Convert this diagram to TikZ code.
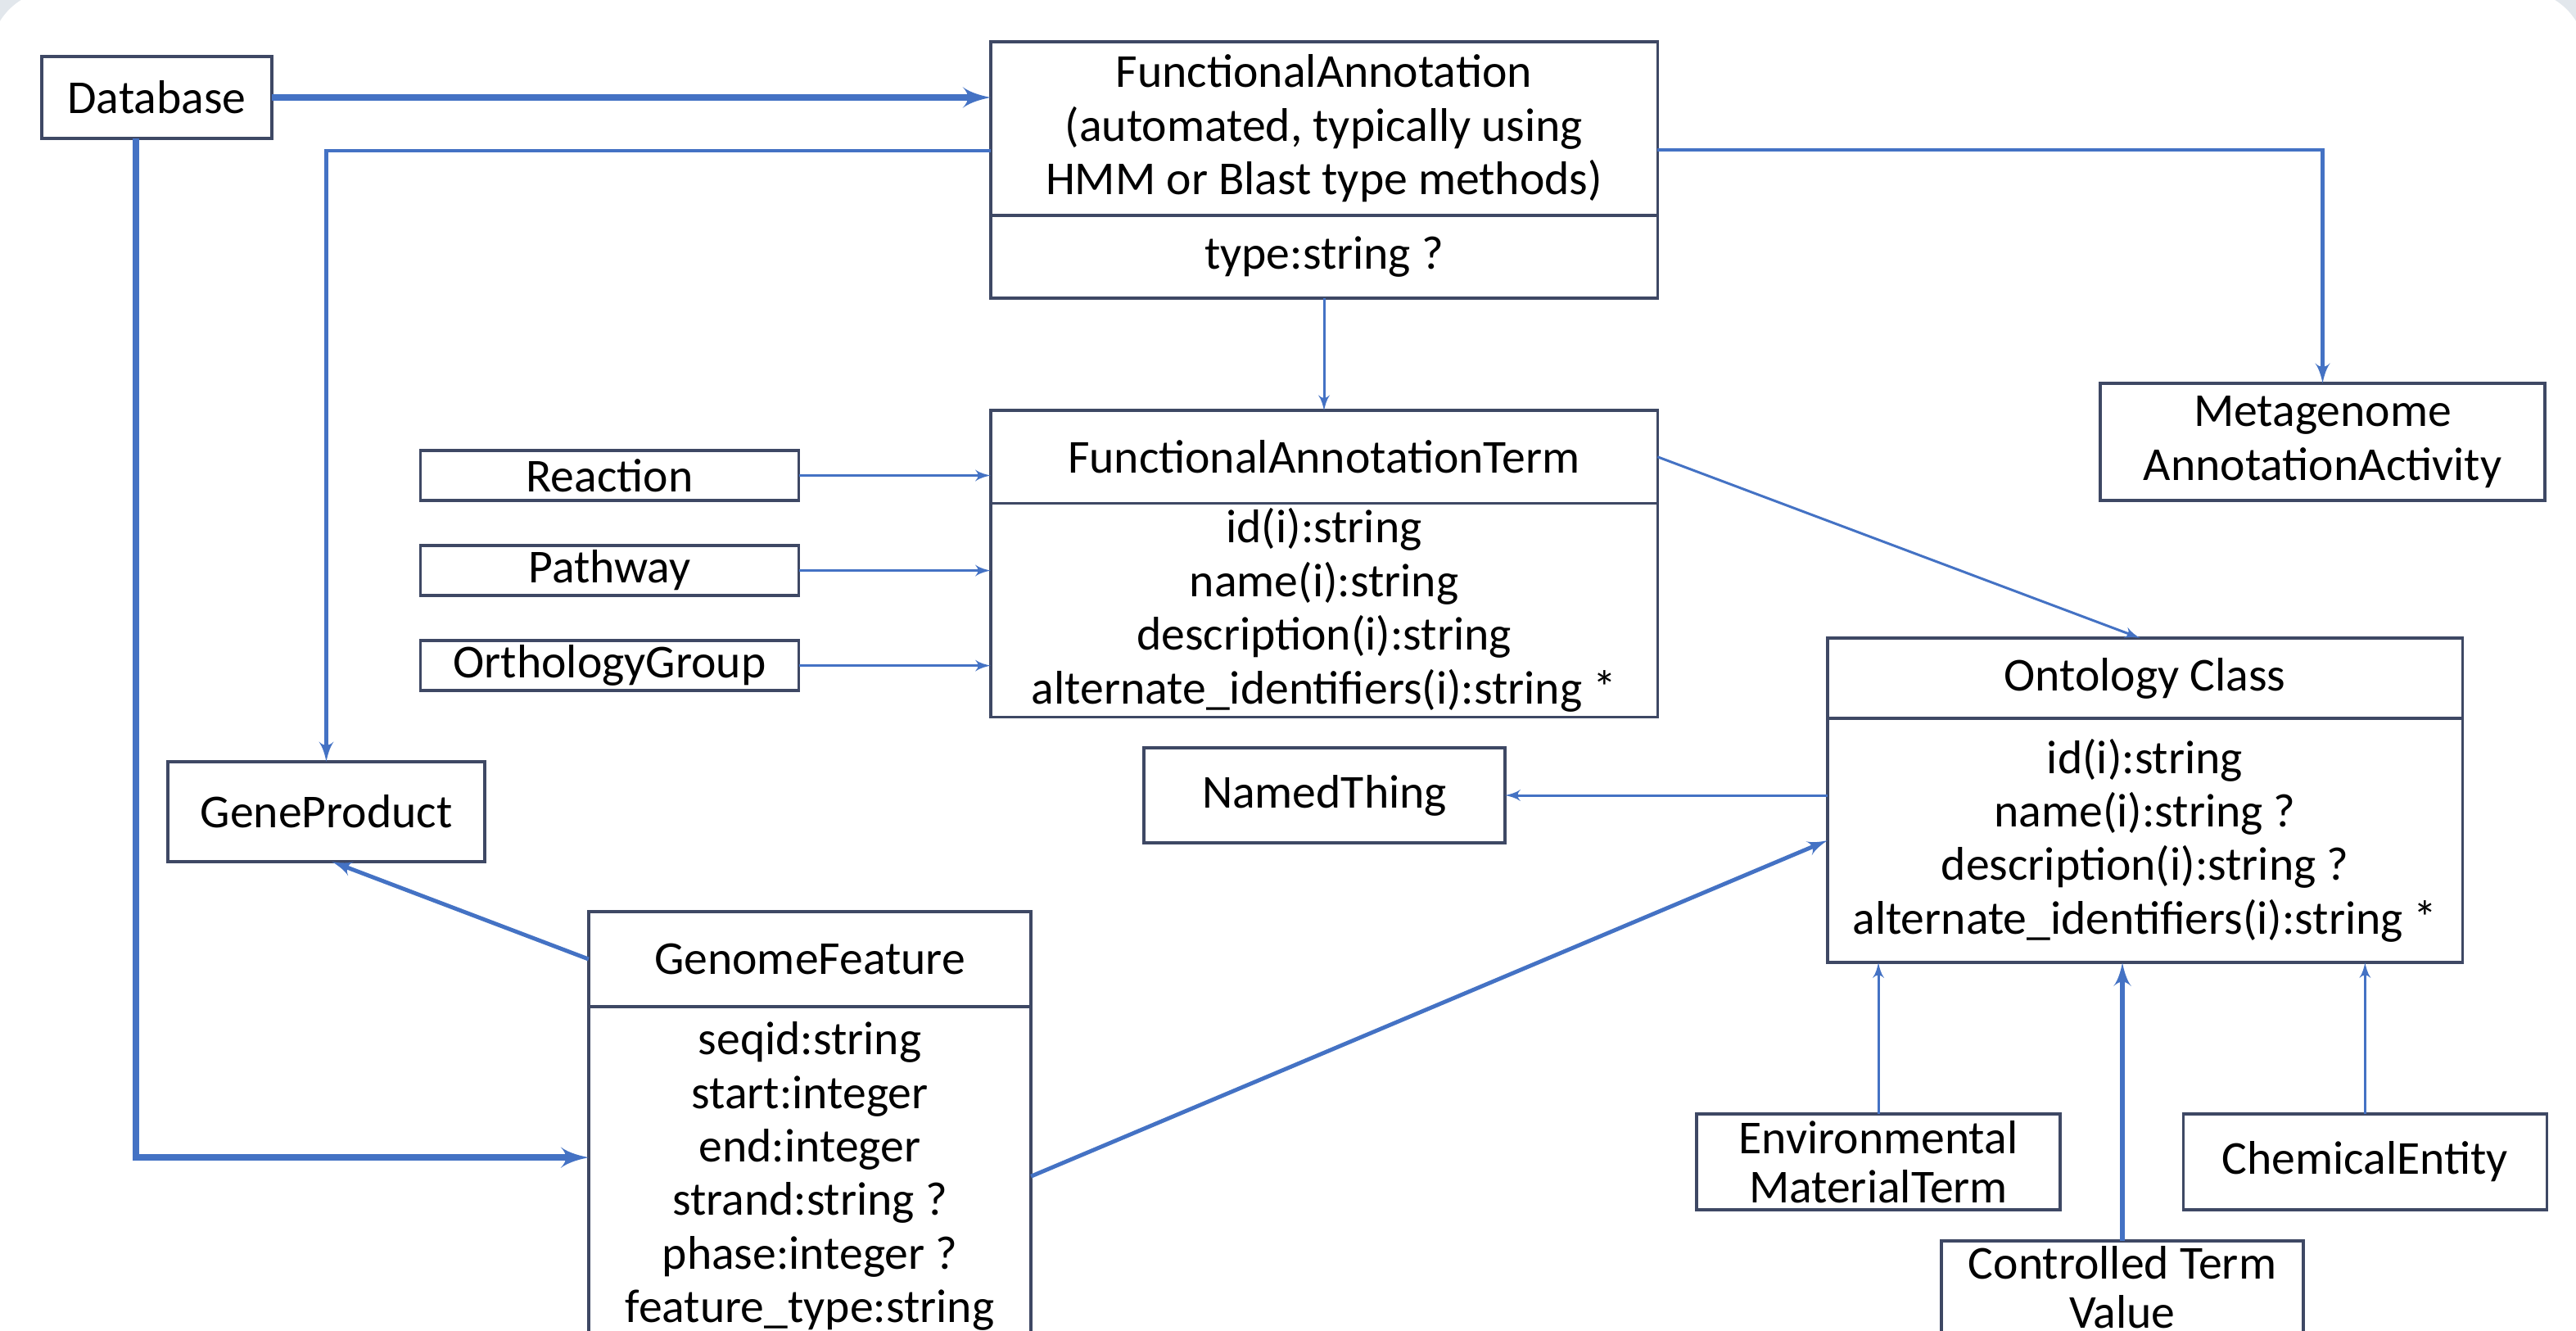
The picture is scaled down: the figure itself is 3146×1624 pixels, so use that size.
\documentclass[tikz,border=0pt]{standalone}
\usepackage{fontspec}
\setmainfont{Carlito}
\usetikzlibrary{shapes,arrows, positioning}
\definecolor{umlblue}{RGB}{68,114,196}
\definecolor{umledge}{RGB}{62,72,100}
\definecolor{framegray}{RGB}{226,231,236}
\tikzstyle{block} = [rectangle, draw=umledge, line width=1pt, fill=white,
    align=center, inner sep=0pt, outer sep=0pt, font=\fontsize{16.4}{18.6}\selectfont]
\tikzstyle{tight} = [font=\fontsize{16.4}{17}\selectfont]
\tikzstyle{line} = [draw=umlblue, line width=0.85pt, -latex']
\tikzstyle{mline} = [line, line width=1.4pt]
\tikzstyle{hline} = [line, line width=2.3pt]

\begin{document}
\begin{tikzpicture}[x=0.01cm, y=-0.01cm, node distance=0.55cm]
		% page frame
		\useasboundingbox (0,0) rectangle (3146,1624);
		\fill[framegray] (0,0) rectangle (3146,1624);
		\fill[white, rounded corners=0.8cm] (-12,-12) rectangle (3158,1700);

		% node placement
		\node [block, minimum width=2.81cm, minimum height=1cm] (Database) at (191.5,119) {Database};

		\node [block, minimum width=8.14cm, minimum height=2.12cm] (FA) at (1617,157) {FunctionalAnnotation\\(automated, typically using\\HMM or Blast type methods)};
		\node [block, minimum width=8.14cm, minimum height=1.01cm, below=0pt of FA] (FAattr) {type:string ?};

		\node [block, minimum width=8.14cm, minimum height=1.13cm, below=1.37cm of FAattr] (FAT) {FunctionalAnnotationTerm};
		\node [block, minimum width=8.14cm, minimum height=2.61cm, below=0pt of FAT] (FATattr) {id(i):string\\name(i):string\\description(i):string\\alternate\_identifiers(i):string *};

		\node [block, minimum width=5.43cm, minimum height=1.43cm] (MAA) at (2836.5,539.5) {Metagenome\\AnnotationActivity};

		\node [block, minimum width=4.62cm, minimum height=0.61cm] (Reaction) at (744.5,580.5) {Reaction};
		\node [block, minimum width=4.62cm, minimum height=0.61cm, below=of Reaction] (Pathway) {Pathway};
		\node [block, minimum width=4.62cm, minimum height=0.61cm, below=of Pathway] (OrthologyGroup) {OrthologyGroup};

		\node [block, minimum width=3.87cm, minimum height=1.22cm] (GeneProduct) at (398.5,991) {GeneProduct};
		\node [block, minimum width=4.41cm, minimum height=1.16cm] (NamedThing) at (1617.5,971) {NamedThing};

		\node [block, minimum width=5.4cm, minimum height=1.16cm] (GF) at (989,1171) {GenomeFeature};
		\node [block, minimum width=5.4cm, minimum height=4.14cm, below=0pt of GF] (GFattr) {seqid:string\\start:integer\\end:integer\\strand:string ?\\phase:integer ?\\feature\_type:string};

		\node [block, minimum width=7.75cm, minimum height=0.98cm] (OC) at (2619.5,828) {Ontology Class};
		\node [block, minimum width=7.75cm, minimum height=2.98cm, below=0pt of OC] (OCattr) {id(i):string\\name(i):string ?\\description(i):string ?\\alternate\_identifiers(i):string *};

		\node [block, tight, minimum width=4.44cm, minimum height=1.17cm] (EMT) at (2294,1418.5) {Environmental\\MaterialTerm};
		\node [block, minimum width=4.44cm, minimum height=1.17cm, right=1.5cm of EMT] (CE) {ChemicalEntity};
		\node [block, tight, minimum width=4.42cm, minimum height=1.14cm] (CTV) at (2592,1572) {Controlled Term\\Value};

		% connectors
		\path[hline] (Database.east) -- (Database.east -| FA.west);
		\path[hline] ([xshift=-0.255cm]Database.south) |- ([yshift=0.23cm]GFattr.west);
		\path[mline] ([yshift=-0.27cm]FA.west) -| (GeneProduct.north);
		\path[mline] ([yshift=-0.26cm]FA.east) -| (MAA.north);
		\path[line] (FAattr.south) -- (FAT.north);

		\path[line] (Reaction.east) -- (Reaction.east -| FAT.west);
		\path[line] (Pathway.east) -- (Pathway.east -| FATattr.west);
		\path[line] (OrthologyGroup.east) -- (OrthologyGroup.east -| FATattr.west);
		\path[line] (FAT.east) -- ([xshift=-0.06cm]OC.north);

		\path[line] (NamedThing.east -| OCattr.west) -- (NamedThing.east);
		\path[mline] (GF.west) -- ([xshift=0.07cm]GeneProduct.south);
		\path[mline] (GFattr.east) -- (OCattr.west);

		\path[line] (EMT.north) -- (EMT.north |- OCattr.south);
		\path[line, line width=1.8pt] (CTV.north) -- (CTV.north |- OCattr.south);
		\path[line] (CE.north) -- (CE.north |- OCattr.south);
	\end{tikzpicture}
\end{document}
